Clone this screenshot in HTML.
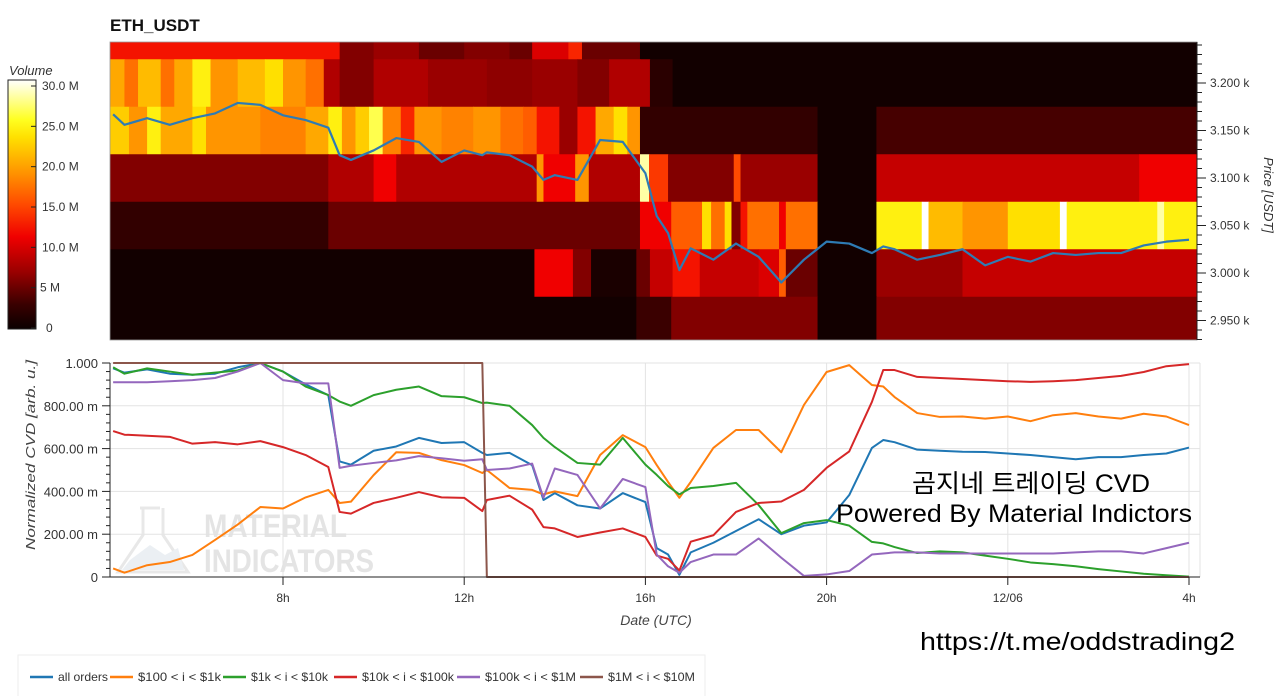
<!DOCTYPE html>
<html><head><meta charset="utf-8">
<style>
html,body{margin:0;padding:0;background:#fff;width:1280px;height:696px;overflow:hidden}
svg{display:block;font-family:"Liberation Sans","Noto Sans CJK KR",sans-serif}
</style></head>
<body>
<svg id="chart" width="1280" height="696" viewBox="0 0 1280 696" xmlns="http://www.w3.org/2000/svg">
<defs>
<linearGradient id="cbar" x1="0" y1="1" x2="0" y2="0">
<stop offset="0" stop-color="#0a0000"/><stop offset="0.1" stop-color="#3a0000"/><stop offset="0.23" stop-color="#9a0000"/><stop offset="0.37" stop-color="#f00000"/><stop offset="0.5" stop-color="#ff4a00"/><stop offset="0.63" stop-color="#ff9500"/><stop offset="0.77" stop-color="#ffe000"/><stop offset="0.84" stop-color="#ffff20"/><stop offset="1" stop-color="#ffffff"/>
</linearGradient>
<clipPath id="hmclip"><rect x="110" y="42" width="1087" height="298"/></clipPath>
<clipPath id="cvdclip"><rect x="110" y="360" width="1090" height="220"/></clipPath>
</defs>
<text x="110" y="31" font-size="17" font-weight="bold" fill="#111">ETH_USDT</text>
<text x="9" y="75" font-size="13" font-style="italic" fill="#333">Volume</text>
<rect x="8" y="80" width="28" height="249" fill="url(#cbar)" stroke="#222" stroke-width="1"/>
<g id="cbticks"></g>
<g id="heatmap" clip-path="url(#hmclip)"></g>
<rect x="110" y="42" width="1087" height="298" fill="none" stroke="#999" stroke-width="0.8"/>
<g id="priceaxis"></g>
<text transform="translate(1264,195) rotate(90)" text-anchor="middle" font-size="13" font-style="italic" fill="#333">Price [USDT]</text>

<g id="cvdgrid"></g>
<g opacity="0.9">
<path d="M140 508 L160 508 M143 508 L143 535 L118 572 L188 572 L163 535 L163 508" fill="none" stroke="#e6e6e6" stroke-width="3"/>
<path d="M130 560 L150 545 L165 555 L178 548 L184 570 L122 570 Z" fill="#e9eef2"/>
<text x="204" y="537" font-size="32" font-weight="bold" fill="#e2e2e2" textLength="143" lengthAdjust="spacingAndGlyphs">MATERIAL</text>
<text x="204" y="572" font-size="32" font-weight="bold" fill="#e2e2e2" textLength="170" lengthAdjust="spacingAndGlyphs">INDICATORS</text>
</g>
<g id="cvdlines" clip-path="url(#cvdclip)"></g>
<g id="cvdaxes"></g>
<text transform="translate(35,455) rotate(-90)" text-anchor="middle" font-size="13" font-style="italic" fill="#444" textLength="190" lengthAdjust="spacingAndGlyphs">Normalized CVD [arb. u.]</text>
<text x="656" y="625" text-anchor="middle" font-size="14" font-style="italic" fill="#444">Date (UTC)</text>

<text x="912" y="492" font-size="25" fill="#000" textLength="238" lengthAdjust="spacingAndGlyphs">곰지네 트레이딩 CVD</text>
<text x="836" y="522" font-size="25" fill="#000" textLength="356" lengthAdjust="spacingAndGlyphs">Powered By Material Indictors</text>
<text x="920" y="650" font-size="25" fill="#000" textLength="315" lengthAdjust="spacingAndGlyphs">https://t.me/oddstrading2</text>

<rect x="18" y="655" width="687" height="44" fill="#fff" stroke="#eee"/>
<g id="legend"></g>
</svg>
<script>
// ---------- data ----------
const priceRows = [3250, 3200, 3150, 3100, 3050, 3000, 2950];
const vol3250 = [[4,9.25,12],[9.25,10,6],[10,11,7],[11,12,5],[12,13,6],[13,13.5,5],[13.5,14.3,10],[14.3,14.6,13],[14.6,15.88,5],[15.88,28.2,0.5]];
const vol3200 = [[4,4.5,20],[4.5,4.8,17],[4.8,5.3,21],[5.3,5.6,17],[5.6,6,20],[6,6.4,24],[6.4,7,19],[7,7.6,21],[7.6,8,23],[8,8.5,19],[8.5,8.9,17],[8.9,9.25,8],[9.25,10,6],[10,11.2,8],[11.2,12.5,7],[12.5,13.5,6.5],[13.5,14.5,7],[14.5,15.2,6],[15.2,15.88,8],[15.88,16.1,8],[16.1,16.6,2],[16.6,28.2,0.5]];
const vol3150 = [[4,4.6,22],[4.6,5,19],[5,5.3,24],[5.3,6,20],[6,6.3,23],[6.3,7.5,19],[7.5,8.5,18],[8.5,9,20],[9,9.3,24],[9.3,9.6,19],[9.6,9.9,22],[9.9,10.2,26],[10.2,10.6,18],[10.6,10.9,13],[10.9,11.5,19],[11.5,12.2,18],[12.2,12.8,19],[12.8,13.3,17],[13.3,13.6,16],[13.6,14.1,12],[14.1,14.5,7],[14.5,14.9,12],[14.9,15.3,20],[15.3,15.6,23],[15.6,15.88,19],[15.88,19.8,2.5],[19.8,21.1,0.5],[21.1,28.2,3.5]];
const vol3100 = [[4,9,6],[9,10,8],[10,10.5,11],[10.5,13.6,8],[13.6,13.75,19],[13.75,14.45,11],[14.45,14.75,19],[14.75,15.88,8],[15.88,16.08,28],[16.08,16.5,14],[16.5,17.95,6],[17.95,18.1,15],[18.1,19.8,7],[19.8,21.1,0.5],[21.1,26.9,9],[26.9,28.2,11]];
const vol3050 = [[4,9,2.5],[9,15.88,5],[15.88,16.57,11],[16.57,17.25,16],[17.25,17.45,23],[17.45,17.75,17],[17.75,17.9,23],[17.9,18.1,6],[18.1,18.25,12],[18.25,18.95,17],[18.95,19.1,11],[19.1,19.8,17],[19.8,21.1,0.5],[21.1,22.1,24],[22.1,22.25,30],[22.25,23,21],[23,24,19],[24,25.15,23],[25.15,25.3,30],[25.3,27.3,24],[27.3,27.45,28],[27.45,28.2,24]];
const vol3000 = [[4,13.55,0.5],[13.55,14.4,11],[14.4,14.8,6],[14.8,15.8,1],[15.8,16.1,5],[16.1,16.6,9],[16.6,17.2,12],[17.2,18.5,9],[18.5,18.95,10],[18.95,19.1,16],[19.1,19.8,5],[19.8,21.1,0.5],[21.1,23,7],[23,28.2,9]];
const vol2950 = [[4,15.8,0.5],[15.8,16.57,3],[16.57,19.8,6],[19.8,21.1,0.5],[21.1,28.2,6]];
const volRows = [vol3250, vol3200, vol3150, vol3100, vol3050, vol3000, vol2950];

const hours = [4.25,4.5,5,5.5,6,6.5,7,7.5,8,8.5,9,9.25,9.5,10,10.5,11,11.5,12,12.4,12.5,13,13.5,13.75,14,14.5,15,15.5,16,16.25,16.5,16.75,17,17.5,18,18.5,19,19.5,20,20.5,21,21.25,21.5,22,22.5,23,23.5,24,24.5,25,25.5,26,26.5,27,27.5,28];
const price = [3167,3156,3163,3156,3163,3168,3179,3177,3166,3161,3153,3124,3119,3129,3142,3138,3117,3129,3124,3127,3124,3112,3098,3103,3098,3140,3138,3105,3060,3042,3003,3026,3014,3031,3017,2990,3014,3033,3031,3021,3028,3025,3014,3019,3025,3008,3017,3012,3021,3019,3021,3021,3029,3033,3035];
const cvdAll = [975,955,970,950,945,950,980,1000,960,900,850,540,525,590,610,650,626,630,580,570,580,523,360,392,335,320,392,350,135,105,10,115,160,215,270,200,240,255,383,603,640,630,595,590,585,584,577,570,560,550,560,560,570,577,605];
const cvd100 = [40,20,55,70,103,173,245,327,320,372,407,346,352,476,583,580,546,523,486,500,416,407,386,400,378,570,663,607,523,444,370,444,603,687,687,583,804,958,990,897,890,841,766,748,750,740,750,728,756,766,750,740,763,750,710];
const cvd1k = [980,950,975,960,945,955,965,1000,960,890,850,820,800,850,875,890,845,840,813,815,800,710,650,607,533,525,650,525,477,425,386,416,425,440,336,205,252,266,240,164,157,140,112,120,115,100,85,68,60,50,37,26,15,8,2];
const cvd10k = [682,665,660,655,623,630,620,635,607,570,514,304,296,346,370,397,372,370,308,360,380,315,233,227,187,208,227,187,100,85,30,165,195,304,346,353,407,510,587,818,967,967,935,930,925,920,915,912,915,920,930,940,958,985,995];
const cvd100k = [910,910,910,915,920,930,960,1000,920,905,905,510,520,533,545,565,555,543,550,500,507,530,370,507,477,320,458,420,105,50,20,70,105,105,180,90,5,12,28,105,110,115,115,110,110,110,110,110,110,115,120,120,110,135,160];
const cvd1M = [1000,1000,1000,1000,1000,1000,1000,1000,1000,1000,1000,1000,1000,1000,1000,1000,1000,1000,1000,0,0,0,0,0,0,0,0,0,0,0,0,0,0,0,0,0,0,0,0,0,0,0,0,0,0,0,0,0,0,0,0,0,0,0,0,0];
const seriesNames = ["all orders","$100 < i < $1k","$1k < i < $10k","$10k < i < $100k","$100k < i < $1M","$1M < i < $10M"];
const seriesColors = ["#1f77b4","#ff7f0e","#2ca02c","#d62728","#9467bd","#8c564b"];
const seriesData = [cvdAll, cvd100, cvd1k, cvd10k, cvd100k, cvd1M];
const priceTicks = [3200,3150,3100,3050,3000,2950];
const cvdTicks = [0,200,400,600,800,1000];
const cvdTickLabels = ["0","200.00 m","400.00 m","600.00 m","800.00 m","1.000"];
const timeTicks = [8,12,16,20,24,28];
const timeTickLabels = ["8h","12h","16h","20h","12/06","4h"];
const cbTicks = [0,5,10,15,20,25,30];
const cbTickLabels = ["0","5 M","10.0 M","15.0 M","20.0 M","25.0 M","30.0 M"];

// ---------- scales ----------
const NS = "http://www.w3.org/2000/svg";
const xT = t => 283 + (t - 8) * 45.3;
const yP = p => 83 + (3200 - p) * 0.95;
const yC = v => 577 - v * 0.214;
const yCb = v => 328 - v * (242 / 30);
function mk(tag, attrs, parent){ const e=document.createElementNS(NS,tag); for(const k in attrs) e.setAttribute(k,attrs[k]); parent.appendChild(e); return e; }
const stops = [[0,[10,0,0]],[3,[58,0,0]],[7,[154,0,0]],[11,[240,0,0]],[15,[255,74,0]],[19,[255,149,0]],[23,[255,224,0]],[25,[255,255,32]],[30,[255,255,255]]];
function cmap(v){
  for(let i=1;i<stops.length;i++){ if(v<=stops[i][0]){ const a=stops[i-1],b=stops[i]; const f=(v-a[0])/(b[0]-a[0]); return "rgb("+a[1].map((c,j)=>Math.round(c+(b[1][j]-c)*f)).join(",")+")"; } }
  return "rgb(255,255,255)";
}

// colorbar ticks
const cbg = document.getElementById("cbticks");
cbTicks.forEach((v,i)=>{
  const ln = mk("line",{x1:31,x2:36,y1:yCb(v),y2:yCb(v),stroke:"#222"},cbg);
  
  
  const tx = mk("text",{x:(v===0?46:(v===5?40:42)),y:yCb(v)+4,"font-size":12,fill:"#333"},cbg);
  tx.textContent = cbTickLabels[i];
  
  
});

// heatmap
const hm = document.getElementById("heatmap");
volRows.forEach((segs,r)=>{
  const p = priceRows[r];
  segs.forEach(s=>{
    const x0 = xT(s[0]), x1 = xT(s[1]);
    const rc = mk("rect",{x:x0,y:yP(p+25),width:x1-x0+0.6,height:yP(p-25)-yP(p+25)+0.5,fill:cmap(s[2])},hm);
    
    
  });
});
const pl = mk("polyline",{points:hours.map((t,i)=>xT(t)+","+yP(price[i])).join(" "),fill:"none",stroke:"#2e7bb4","stroke-width":2.2,"stroke-linejoin":"round"},hm);



// price axis
const pa = document.getElementById("priceaxis");
mk("line",{x1:1197,x2:1197,y1:42,y2:340,stroke:"#222"},pa);
for(let p=3240;p>=2930;p-=10){
  const major = p%50===0;
  mk("line",{x1:1197,x2:major?1206:1202,y1:yP(p),y2:yP(p),stroke:"#222"},pa);
}
priceTicks.forEach(p=>{
  const tx = mk("text",{x:1210,y:yP(p)+4,"font-size":12,fill:"#333"},pa);
  tx.textContent = (p/1000).toFixed(3)+" k";
  
  
});

// cvd grid and axes
const gg = document.getElementById("cvdgrid");
cvdTicks.forEach(v=>{ if(v>0) mk("line",{x1:110,x2:1200,y1:yC(v),y2:yC(v),stroke:"#e3e3e3"},gg); });
timeTicks.forEach(t=>mk("line",{x1:xT(t),x2:xT(t),y1:363,y2:577,stroke:"#e3e3e3"},gg));
mk("line",{x1:1200,x2:1200,y1:363,y2:577,stroke:"#e3e3e3"},gg);

const ax = document.getElementById("cvdaxes");
mk("line",{x1:110,x2:110,y1:363,y2:577,stroke:"#222"},ax);
mk("line",{x1:110,x2:1200,y1:577,y2:577,stroke:"#222"},ax);
for(let v=0;v<=1000;v+=40){ mk("line",{x1:v%200===0?102:106,x2:110,y1:yC(v),y2:yC(v),stroke:"#222"},ax); }
cvdTicks.forEach((v,i)=>{
  const tx = mk("text",{x:98,y:yC(v)+5,"text-anchor":"end","font-size":13,fill:"#333"},ax);
  tx.textContent = cvdTickLabels[i];
  
  
});
timeTicks.forEach((t,i)=>{
  mk("line",{x1:xT(t),x2:xT(t),y1:577,y2:585,stroke:"#222"},ax);
  const tx = mk("text",{x:xT(t),y:602,"text-anchor":"middle","font-size":12,fill:"#333"},ax);
  tx.textContent = timeTickLabels[i];
  
  
});

// cvd lines
const lg = document.getElementById("cvdlines");
seriesData.forEach((arr,k)=>{
  const ln = mk("polyline",{points:hours.map((t,i)=>xT(t)+","+yC(arr[i])).join(" "),fill:"none",stroke:seriesColors[k],"stroke-width":2,"stroke-linejoin":"round"},lg);
  
  
});

// legend
const leg = document.getElementById("legend");
const legX = [30,110,223,334,457,580];
const legW = [50,83,77,92,91,87];
seriesNames.forEach((n,k)=>{
  const g = mk("g",{},leg);
  
  
  mk("line",{x1:legX[k],x2:legX[k]+23,y1:677,y2:677,stroke:seriesColors[k],"stroke-width":2.5},g);
  const tx = mk("text",{x:legX[k]+28,y:681,"font-size":12,fill:"#333",textLength:legW[k],lengthAdjust:"spacingAndGlyphs"},g);
  tx.textContent = n;
});
</script>
</body></html>
